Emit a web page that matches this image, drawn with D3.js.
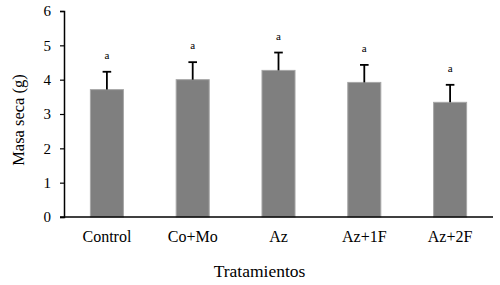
<!DOCTYPE html>
<html><head><meta charset="utf-8">
<script src="https://cdn.jsdelivr.net/npm/d3@7"></script>
<style>body{margin:0;background:#fff}svg{display:block}svg text{font-family:'Liberation Serif','DejaVu Serif',serif !important}</style>
</head><body><div id="chart"></div>
<script>
const categories = ["Control","Co+Mo","Az","Az+1F","Az+2F"];
const values = [3.71, 4.00, 4.27, 3.92, 3.34];
const errors = [0.52, 0.51, 0.52, 0.51, 0.51];
const letters = ["a","a","a","a","a"];
const yTicks = [0,1,2,3,4,5,6];

const W=500,H=285;
const m={left:64,right:7,top:11,bottom:68};
const svg=d3.select("#chart").append("svg").attr("width",W).attr("height",H);
const x=d3.scaleBand().domain(categories).range([m.left,W-m.right]).paddingInner(0.615).paddingOuter(0.3075);
const y=d3.scaleLinear().domain([0,6]).range([H-m.bottom,m.top]);

svg.selectAll("rect.bar").data(values).join("rect").attr("class","bar")
  .attr("x",(d,i)=>x(categories[i])).attr("width",x.bandwidth())
  .attr("y",d=>y(d)).attr("height",d=>y(0)-y(d))
  .attr("fill","#7f7f7f").attr("stroke","#a6a6a6").attr("stroke-width",1);

const eg=svg.append("g").attr("stroke","#000").attr("stroke-width",1.8);
values.forEach((v,i)=>{
  const cx=x(categories[i])+x.bandwidth()/2;
  eg.append("line").attr("x1",cx).attr("x2",cx).attr("y1",y(v)).attr("y2",y(v+errors[i]));
  eg.append("line").attr("x1",cx-4.3).attr("x2",cx+4.3).attr("y1",y(v+errors[i])).attr("y2",y(v+errors[i]));
  svg.append("text").attr("x",cx).attr("y",y(v+errors[i])-13).attr("text-anchor","middle")
    .attr("font-size",11).attr("fill","#000").text(letters[i]);
});

const ya=svg.append("g").attr("transform",`translate(${m.left},0)`)
  .call(d3.axisLeft(y).tickValues(yTicks).tickSize(4).tickPadding(9).tickFormat(d3.format("d")));
ya.attr("font-family",null);
ya.select(".domain").attr("stroke","#000").attr("stroke-width",1.5);
ya.selectAll(".tick line").attr("stroke","#000").attr("stroke-width",1.2);
ya.selectAll("text").attr("font-size",15).attr("fill","#000");

const xa=svg.append("g").attr("transform",`translate(0,${y(0)})`)
  .call(d3.axisBottom(x).tickSize(0).tickPadding(14));
xa.attr("font-family",null);
xa.select(".domain").attr("stroke","#000").attr("stroke-width",1.5).attr("d",`M${m.left-4},0H${W-m.right}`);
xa.selectAll("text").attr("font-size",16).attr("fill","#000");

svg.append("text").attr("x",259.5).attr("y",277).attr("text-anchor","middle")
  .attr("font-size",17.5).attr("fill","#000").text("Tratamientos");
svg.append("text").attr("transform",`translate(24,120) rotate(-90)`).attr("text-anchor","middle")
  .attr("font-size",16.5).attr("fill","#000").text("Masa seca (g)");
</script></body></html>
